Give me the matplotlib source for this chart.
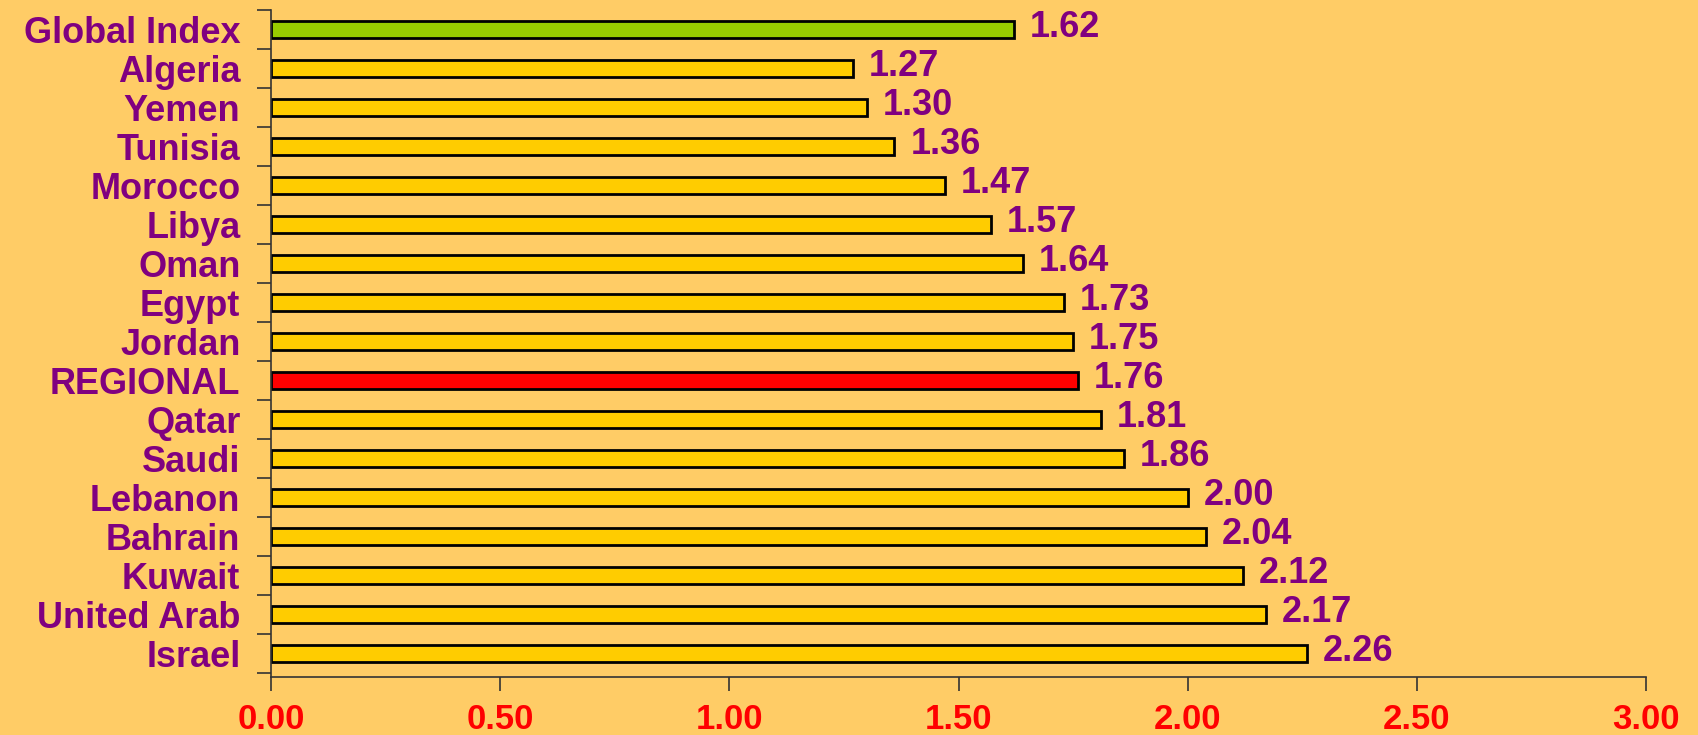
import matplotlib.pyplot as plt
import numpy as np

plt.rcParams['font.family'] = ['Liberation Sans', 'DejaVu Sans']

# index values per country, top to bottom
countries = ['Global Index', 'Algeria', 'Yemen', 'Tunisia', 'Morocco', 'Libya',
             'Oman', 'Egypt', 'Jordan', 'REGIONAL', 'Qatar', 'Saudi', 'Lebanon',
             'Bahrain', 'Kuwait', 'United Arab', 'Israel']
values = [1.62, 1.27, 1.30, 1.36, 1.47, 1.57, 1.64, 1.73, 1.75, 1.76,
          1.81, 1.86, 2.00, 2.04, 2.12, 2.17, 2.26]
xticks = [0.0, 0.5, 1.0, 1.5, 2.0, 2.5, 3.0]

bg = '#FFCC66'
purple = '#800080'

colors = []
for name in countries:
    if name == 'Global Index':
        colors.append('#99CC00')
    elif name == 'REGIONAL':
        colors.append('#FF0000')
    else:
        colors.append('#FFCC00')

fig = plt.figure(figsize=(16.98, 7.35), dpi=100, facecolor=bg)
ax = fig.add_axes([0.1596, 0.079, 0.8098, 0.9074])
ax.set_facecolor(bg)

n = len(countries)
y = np.arange(n)[::-1]
ax.barh(y, values, height=0.42, color=colors, edgecolor='black', linewidth=2.0)

for yi, v in zip(y, values):
    ax.text(v + 0.035, yi + 0.05, f'{v:.2f}', va='center', ha='left',
            fontsize=26, fontweight='bold', color=purple)

ax.set_xlim(0, 3.0)
ax.set_ylim(-0.6, n - 0.5)

ax.set_xticks(xticks)
ax.set_xticklabels([f'{t:.2f}' for t in xticks])
ax.tick_params(axis='x', length=10, width=1.2, color='#333333', pad=9,
               labelsize=25, labelcolor='#FF0000')
for lbl in ax.get_xticklabels():
    lbl.set_fontweight('bold')

ax.set_yticks(y)
ax.set_yticklabels(countries)
ax.set_yticks(np.arange(n + 1) - 0.5, minor=True)
ax.tick_params(axis='y', which='major', length=0, pad=22,
               labelsize=26, labelcolor=purple)
ax.tick_params(axis='y', which='minor', length=10, width=1.2, color='#333333')
for lbl in ax.get_yticklabels():
    lbl.set_fontweight('bold')

for side in ['top', 'right']:
    ax.spines[side].set_visible(False)
for side in ['left', 'bottom']:
    ax.spines[side].set_color('#333333')
    ax.spines[side].set_linewidth(1.2)

plt.savefig('out.png', dpi=100, facecolor=bg)
